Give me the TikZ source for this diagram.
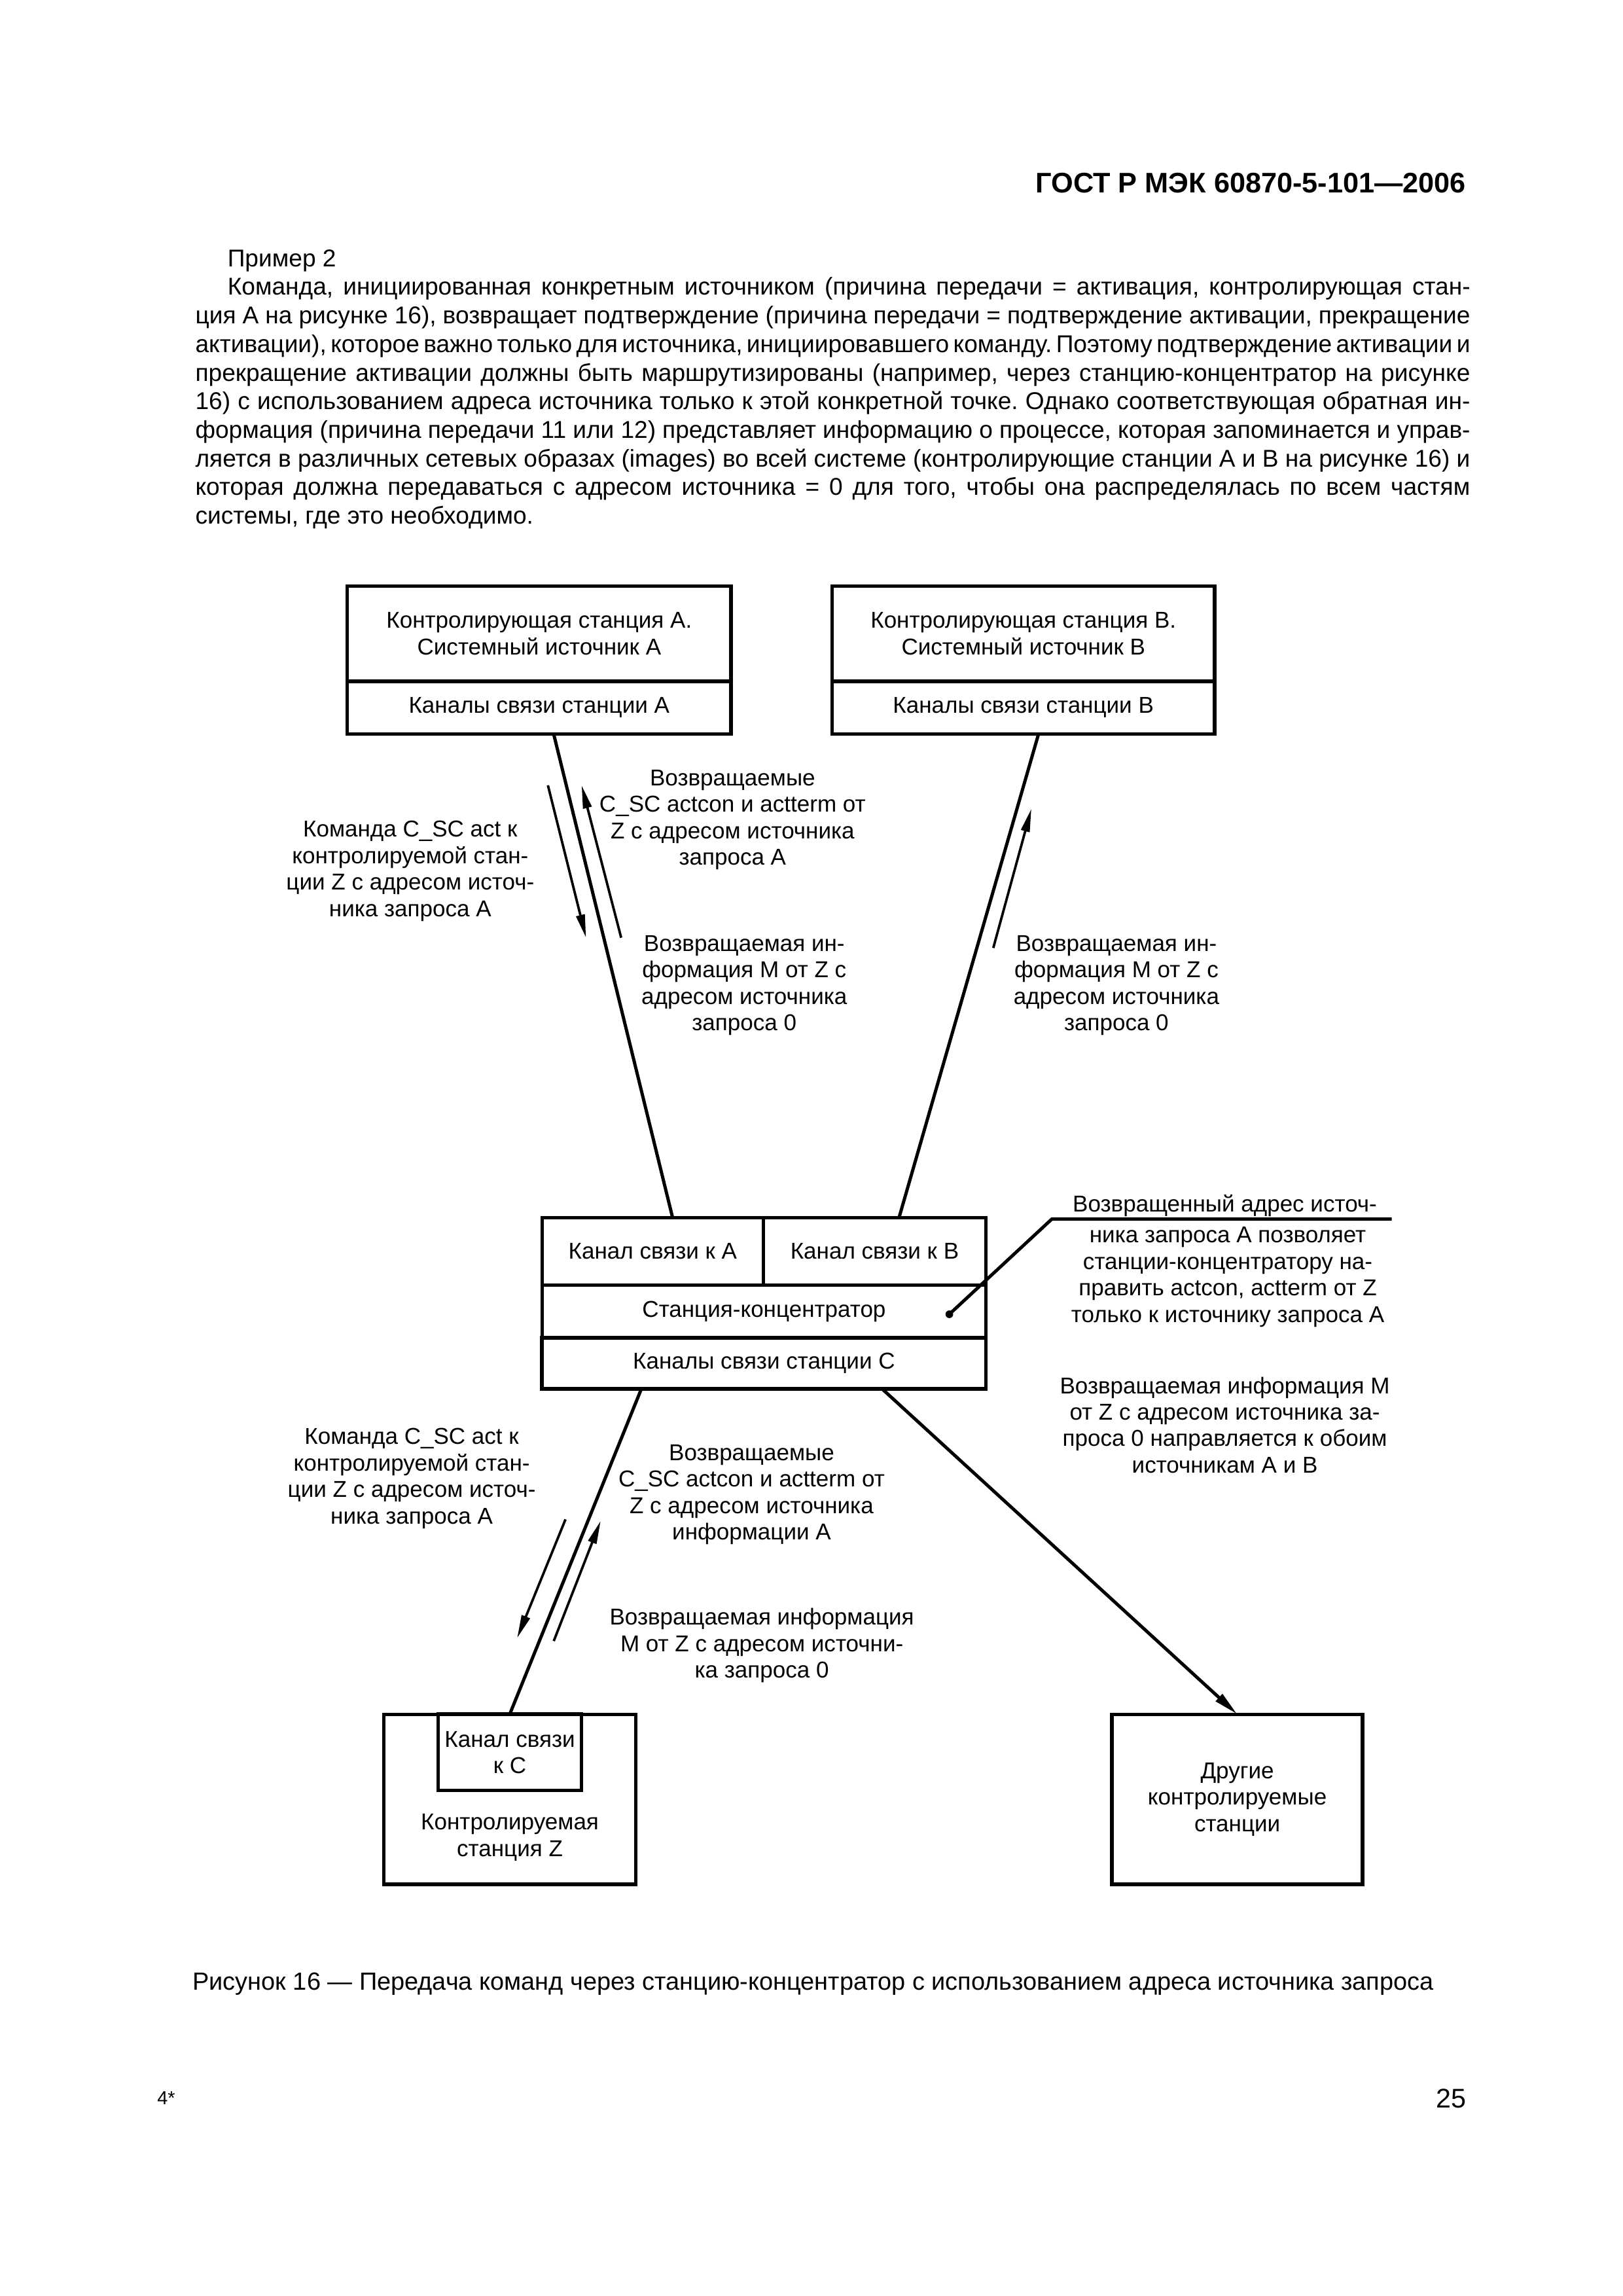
\documentclass[tikz,border=0pt]{standalone}
\usepackage{fontspec}
\setmainfont{Liberation Sans}
\usetikzlibrary{calc, arrows.meta, positioning}

\newcommand{\bodysize}{\fontsize{9}{10.6}\selectfont}
\newcommand{\figsize}{\fontsize{8.5}{9.8}\selectfont}
\frenchspacing

\begin{document}
\begin{tikzpicture}[x=0.190909mm, y=-0.190909mm]
            % Styles
            \tikzset{
              cell/.style={rectangle, draw, line width=1.3pt, outer sep=0pt, inner sep=0pt, align=center, font=\figsize},
              note/.style={align=center, inner sep=0pt, font=\figsize},
              wire/.style={line width=1.2pt},
              msg/.style={line width=0.9pt, -{Triangle[length=3mm, width=1.1mm]}},
            }
            \useasboundingbox (0,0) rectangle (1100,1556);

            \begin{scope}[scale=0.993, transform shape]
            % Page head and text
            \node[anchor=east, inner sep=0pt, font=\bfseries\fontsize{10.5}{12}\selectfont] (gost) at (1001,125) {ГОСТ Р МЭК 60870-5-101—2006};
            \node[anchor=north west, inner sep=0pt, text width=166.1mm, align=justify, font=\bodysize] (intro) at (133,170)
              {\tolerance=9999\spaceskip=0.278em plus 0.4em minus 0.2em\hspace*{4.2mm}Пример 2\\
               \hspace*{4.2mm}Команда, инициированная конкретным источником (причина передачи = активация, контролирующая стан-\linebreak
               ция А на рисунке 16), возвращает подтверждение (причина передачи = подтверждение активации, прекращение\linebreak
               активации), которое важно только для источника, инициировавшего команду. Поэтому подтверждение активации и\linebreak
               прекращение активации должны быть маршрутизированы (например, через станцию-концентратор на рисунке\linebreak
               16) с использованием адреса источника только к этой конкретной точке. Однако соответствующая обратная ин-\linebreak
               формация (причина передачи 11 или 12) представляет информацию о процессе, которая запоминается и управ-\linebreak
               ляется в различных сетевых образах (images) во всей системе (контролирующие станции А и В на рисунке 16) и\linebreak
               которая должна передаваться с адресом источника = 0 для того, чтобы она распределялась по всем частям\linebreak
               системы, где это необходимо.};

            % Controlling stations
            \node[cell, minimum width=50.02mm, minimum height=12.41mm] (staA) at (368,432.5) {Контролирующая станция А.\\Системный источник А};
            \node[cell, minimum width=50.02mm, minimum height=6.87mm, below=0pt of staA] (chA) {Каналы связи станции А};
            \node[cell, minimum width=49.83mm, minimum height=12.41mm] (staB) at (698.5,432.5) {Контролирующая станция В.\\Системный источник В};
            \node[cell, minimum width=49.83mm, minimum height=6.87mm, below=0pt of staB] (chB) {Каналы связи станции В};

            % Concentrator
            \node[cell, minimum width=28.83mm, minimum height=8.78mm] (linkA) at (445.5,854) {Канал связи к А};
            \node[cell, minimum width=29.02mm, minimum height=8.78mm, right=0pt of linkA] (linkB) {Канал связи к В};
            \node[cell, minimum width=57.85mm, minimum height=6.87mm, anchor=north west] (hub) at (linkA.south west) {Станция-концентратор};
            \node[cell, minimum width=57.85mm, minimum height=6.68mm, below=0pt of hub] (chC) {Каналы связи станции С};

            % Controlled stations
            \node[cell, minimum width=32.84mm, minimum height=22.15mm] (staZ) at (348,1228) {};
            \node[cell, minimum width=18.71mm, minimum height=9.93mm, anchor=north] (linkC) at (staZ.north) {Канал связи\\к С};
            \node[note] (staZtext) at (348,1254) {Контролируемая\\станция Z};
            \node[cell, minimum width=32.65mm, minimum height=22.15mm] (others) at (844.5,1228) {Другие\\контролируемые\\станции};

            % Connections
            \draw[wire] ($(chA.south west)!0.538!(chA.south east)$) -- ($(linkA.north west)!0.59!(linkA.north east)$);
            \draw[wire] ($(chB.south west)!0.54!(chB.south east)$) -- ($(linkB.north west)!0.61!(linkB.north east)$);
            \draw[wire] ($(chC.south west)!0.224!(chC.south east)$) -- (linkC.north);
            \draw[wire, -{Triangle[length=3.2mm, width=1.2mm]}] ($(chC.south west)!0.766!(chC.south east)$) -- (others.north);

            % Message arrows
            \coordinate (cmdA1) at (374,536);  \coordinate (cmdA2) at (400,640);
            \coordinate (retA1) at (424,640);  \coordinate (retA2) at (397,536);
            \coordinate (infoB1) at (678,647); \coordinate (infoB2) at (704,552);
            \coordinate (cmdZ1) at (386,1037); \coordinate (cmdZ2) at (353,1118);
            \coordinate (retZ1) at (378,1120); \coordinate (retZ2) at (410,1038);
            \draw[msg] (cmdA1) -- (cmdA2);
            \draw[msg] (retA1) -- (retA2);
            \draw[msg] (infoB1) -- (infoB2);
            \draw[msg] (cmdZ1) -- (cmdZ2);
            \draw[msg] (retZ1) -- (retZ2);

            % Labels
            \node[note] (retAtext) at (500,559.5) {Возвращаемые\\C\_SC actcon и actterm от\\Z с адресом источника\\запроса А};
            \node[note] (cmdAtext) at (280,594.5) {Команда C\_SC act к\\контролируемой стан-\\ции Z с адресом источ-\\ника запроса А};
            \node[note] (infoAtext) at (508,672.5) {Возвращаемая ин-\\формация М от Z с\\адресом источника\\запроса 0};
            \node[note] (infoBtext) at (762,672.5) {Возвращаемая ин-\\формация М от Z с\\адресом источника\\запроса 0};
            \node[note] (cmdZtext) at (281,1009) {Команда C\_SC act к\\контролируемой стан-\\ции Z с адресом источ-\\ника запроса А};
            \node[note] (retZtext) at (513,1020) {Возвращаемые\\C\_SC actcon и actterm от\\Z с адресом источника\\информации А};
            \node[note] (infoZtext) at (520,1123) {Возвращаемая информация\\М от Z с адресом источни-\\ка запроса 0};
            \node[note] (allText) at (836,972.5) {Возвращаемая информация М\\от Z с адресом источника за-\\проса 0 направляется к обоим\\источникам А и В};

            % Callout to the concentrator
            \coordinate (dot) at (648,897);
            \coordinate (knee) at (718,832);
            \coordinate (tail) at (950,832);
            \fill (dot) circle[radius=0.5mm];
            \draw[wire] (dot) -- (knee) -- (tail);
            \node[note] (callTop) at (836,823) {Возвращенный адрес источ-};
            \node[note] (callText) at (838,871.5) {ника запроса А позволяет\\станции-концентратору на-\\править actcon, actterm от Z\\только к источнику запроса А};

            % Caption and page numbers
            \node[inner sep=0pt, font=\fontsize{9.2}{11}\selectfont] (caption) at (555,1354) {Рисунок 16 — Передача команд через станцию-концентратор с использованием адреса источника запроса};
            \node[anchor=west, inner sep=0pt, font=\fontsize{7}{8}\selectfont] (sheet) at (107,1432) {4*};
            \node[anchor=east, inner sep=0pt, font=\fontsize{10}{12}\selectfont] (page) at (1001,1432) {25};
            \end{scope}
\end{tikzpicture}
\end{document}
